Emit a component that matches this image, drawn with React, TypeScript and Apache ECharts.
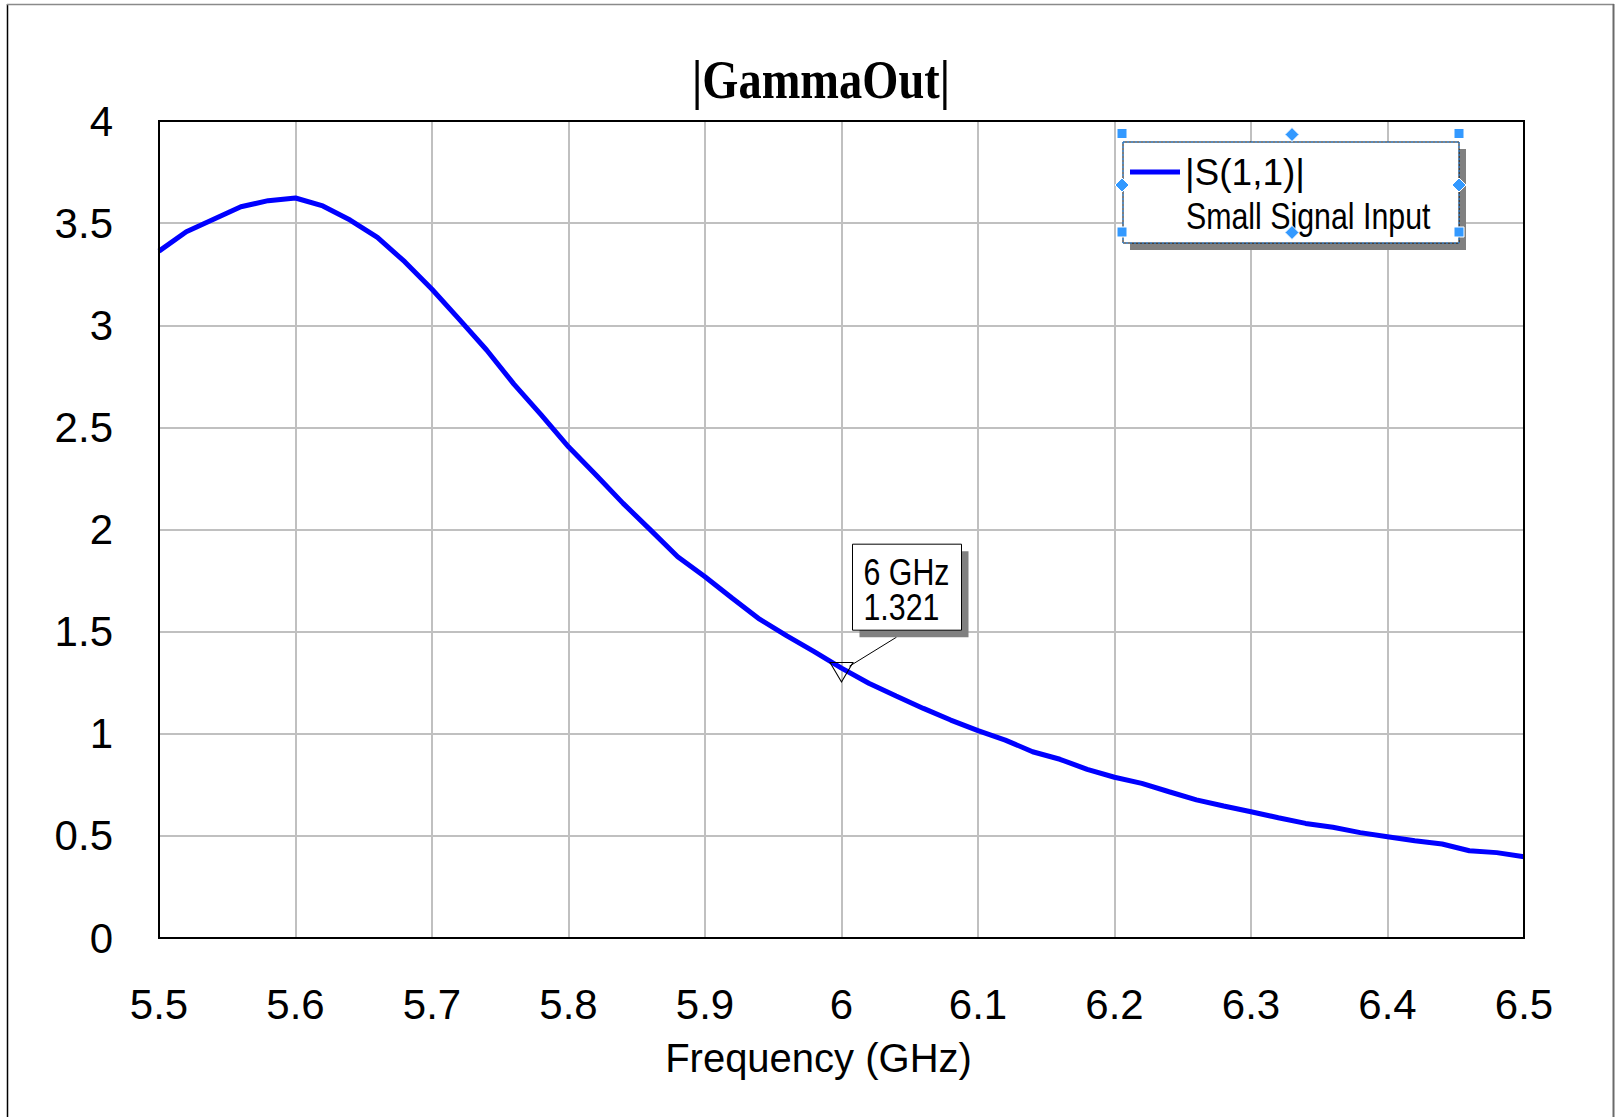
import React, { useEffect, useRef } from "react";
import * as echarts from "echarts";

const chartTitle = "|GammaOut|";
const xAxisName = "Frequency (GHz)";
const seriesName = "|S(1,1)|";
const seriesSubtitle = "Small Signal Input";

const freqGHz = [
  5.5, 5.52, 5.54, 5.56, 5.58, 5.6, 5.62, 5.64, 5.66, 5.68,
  5.7, 5.72, 5.74, 5.76, 5.78, 5.8, 5.82, 5.84, 5.86, 5.88,
  5.9, 5.92, 5.94, 5.96, 5.98, 6.0, 6.02, 6.04, 6.06, 6.08,
  6.1, 6.12, 6.14, 6.16, 6.18, 6.2, 6.22, 6.24, 6.26, 6.28,
  6.3, 6.32, 6.34, 6.36, 6.38, 6.4, 6.42, 6.44, 6.46, 6.48, 6.5,
];

const s11Mag = [
  3.363, 3.458, 3.519, 3.58, 3.61, 3.623, 3.584, 3.515, 3.43, 3.311,
  3.176, 3.029, 2.879, 2.712, 2.561, 2.405, 2.268, 2.128, 1.998, 1.867,
  1.769, 1.663, 1.561, 1.479, 1.402, 1.321, 1.247, 1.185, 1.124, 1.067,
  1.015, 0.969, 0.912, 0.875, 0.826, 0.787, 0.757, 0.716, 0.676, 0.646,
  0.618, 0.589, 0.561, 0.542, 0.516, 0.496, 0.476, 0.46, 0.427, 0.418, 0.398,
];

const markerFreq = 6;
const markerValue = 1.321;

const xMin = 5.5;
const xMax = 6.5;
const xStep = 0.1;
const yMin = 0;
const yMax = 4;
const yStep = 0.5;

const SANS = '"Liberation Sans", Arial, Helvetica, sans-serif';
const NARROW = '"Liberation Sans Narrow", "Arial Narrow", "Liberation Sans", Arial, sans-serif';
const SERIF = '"Liberation Serif", "Times New Roman", serif';
const HANDLE = "#3399ff";

function handles(): any[] {
  const sq = (x: number, y: number) => ({
    type: "rect",
    z: 40,
    shape: { x: x - 5, y: y - 5, width: 10, height: 10 },
    style: { fill: HANDLE, stroke: "#ffffff", lineWidth: 1 },
  });
  const dm = (x: number, y: number) => ({
    type: "polygon",
    z: 40,
    shape: { points: [[x, y - 7], [x + 7, y], [x, y + 7], [x - 7, y]] },
    style: { fill: HANDLE, stroke: "#ffffff", lineWidth: 1 },
  });
  return [
    sq(1122, 133.5), sq(1459, 133.5), sq(1122, 232), sq(1459, 232),
    dm(1292, 134.5), dm(1292, 232.5), dm(1122, 185), dm(1459, 185),
  ];
}

function staticGraphics(): any[] {
  return [
    { type: "line", z: 1, shape: { x1: 7.5, y1: 4, x2: 7.5, y2: 1117 }, style: { stroke: "#000", lineWidth: 1.5 } },
    { type: "line", z: 1, shape: { x1: 7, y1: 4.5, x2: 1614, y2: 4.5 }, style: { stroke: "#8a8a8a", lineWidth: 1.5 } },
    { type: "line", z: 1, shape: { x1: 1613.5, y1: 4, x2: 1613.5, y2: 1117 }, style: { stroke: "#6a6a6a", lineWidth: 2 } },
    {
      type: "text",
      z: 5,
      x: 821,
      y: 80,
      scaleX: 0.86,
      style: {
        text: chartTitle,
        fontSize: 54,
        fontWeight: "bold",
        fontFamily: SERIF,
        fill: "#000",
        textAlign: "center",
        textVerticalAlign: "middle",
        align: "center",
        verticalAlign: "middle",
      },
    },
    { type: "rect", z: 10, shape: { x: 1130, y: 149, width: 336, height: 101 }, style: { fill: "#808080" } },
    { type: "rect", z: 11, shape: { x: 1123, y: 142, width: 336, height: 101 }, style: { fill: "#fff", stroke: "#000", lineWidth: 1 } },
    { type: "rect", z: 12, shape: { x: 1123, y: 142, width: 336, height: 101 }, style: { fill: "none", stroke: HANDLE, lineWidth: 1, lineDash: [2, 2] } },
    {
      type: "text",
      z: 25,
      x: 1186,
      y: 216,
      scaleX: 0.82,
      style: {
        text: seriesSubtitle,
        fontSize: 37,
        fontFamily: SANS,
        fill: "#000",
        textAlign: "left",
        textVerticalAlign: "middle",
        align: "left",
        verticalAlign: "middle",
      },
    },
    ...handles(),
  ];
}

function calloutGraphics(p: number[]): any[] {
  const bx = p[0] + 11;
  const by = p[1] - 124;
  const bw = 109;
  const bh = 86;
  const txt = (t: string, y: number) => ({
    type: "text",
    z: 32,
    x: bx + 11,
    y,
    scaleX: 0.82,
    style: {
      text: t,
      fontSize: 37,
      fontFamily: SANS,
      fill: "#000",
      textAlign: "left",
      textVerticalAlign: "middle",
      align: "left",
      verticalAlign: "middle",
    },
  });
  return [
    { type: "line", z: 29, shape: { x1: bx + 44, y1: by + bh + 7, x2: p[0] + 8, y2: p[1] - 2 }, style: { stroke: "#000", lineWidth: 1 } },
    { type: "rect", z: 30, shape: { x: bx + 7, y: by + 7, width: bw, height: bh }, style: { fill: "#808080" } },
    { type: "rect", z: 31, shape: { x: bx, y: by, width: bw, height: bh }, style: { fill: "#fff", stroke: "#000", lineWidth: 1 } },
    txt(`${markerFreq} GHz`, by + 28),
    txt(markerValue.toFixed(3), by + 63),
  ];
}

export default function App() {
  const ref = useRef<HTMLDivElement>(null);

  useEffect(() => {
    if (!ref.current) return;
    const chart = echarts.init(ref.current, null, { renderer: "svg" });
    const data = freqGHz.map((f, i) => [f, s11Mag[i]]);

    const option: any = {
      animation: false,
      backgroundColor: "#ffffff",
      textStyle: { fontFamily: SANS },
      grid: {
        left: 159,
        top: 121,
        right: 92,
        bottom: 179,
        show: true,
        z: 6,
        borderColor: "#000",
        borderWidth: 2,
        backgroundColor: "transparent",
        containLabel: false,
      },
      legend: {
        show: true,
        z: 20,
        left: 1130,
        top: 152,
        padding: 0,
        icon: "rect",
        itemWidth: 50,
        itemHeight: 5,
        selectedMode: false,
        data: [seriesName],
        textStyle: { fontSize: 37, color: "#000", fontFamily: NARROW, lineHeight: 40 },
      },
      xAxis: {
        type: "value",
        min: xMin,
        max: xMax,
        interval: xStep,
        axisLine: { show: false },
        axisTick: { show: false },
        splitLine: { show: true, lineStyle: { color: "#c0c0c0", width: 2 } },
        axisLabel: { fontSize: 42, color: "#000", margin: 45, fontFamily: SANS },
        name: xAxisName,
        nameLocation: "middle",
        nameGap: 100,
        nameTextStyle: { fontSize: 40, color: "#000", fontFamily: SANS, padding: [0, 46, 0, 0] },
      },
      yAxis: {
        type: "value",
        min: yMin,
        max: yMax,
        interval: yStep,
        axisLine: { show: false },
        axisTick: { show: false },
        splitLine: { show: true, lineStyle: { color: "#c0c0c0", width: 2 } },
        axisLabel: { fontSize: 42, color: "#000", margin: 46, fontFamily: SANS },
      },
      series: [
        {
          name: seriesName,
          type: "line",
          data,
          showSymbol: false,
          symbol: "none",
          smooth: false,
          z: 3,
          lineStyle: { color: "#0000ff", width: 5 },
          itemStyle: { color: "#0000ff" },
          markPoint: {
            z: 28,
            silent: true,
            symbol: "path://M0,0 L23,0 L11.5,19.4 Z",
            symbolSize: [23, 19.4],
            symbolOffset: [0, 4],
            label: { show: false },
            itemStyle: { color: "transparent", borderColor: "#000", borderWidth: 1 },
            data: [{ coord: [markerFreq, markerValue] }],
          },
        },
      ],
      graphic: staticGraphics(),
    };

    chart.setOption(option);
    const p = chart.convertToPixel({ gridIndex: 0 }, [markerFreq, markerValue]) as number[];
    chart.setOption({ graphic: [...staticGraphics(), ...calloutGraphics(p)] }, { replaceMerge: ["graphic"] });

    return () => chart.dispose();
  }, []);

  return (
    <div
      ref={ref}
      style={{ position: "fixed", left: 0, top: 0, width: 1616, height: 1117, background: "#fff" }}
    />
  );
}
